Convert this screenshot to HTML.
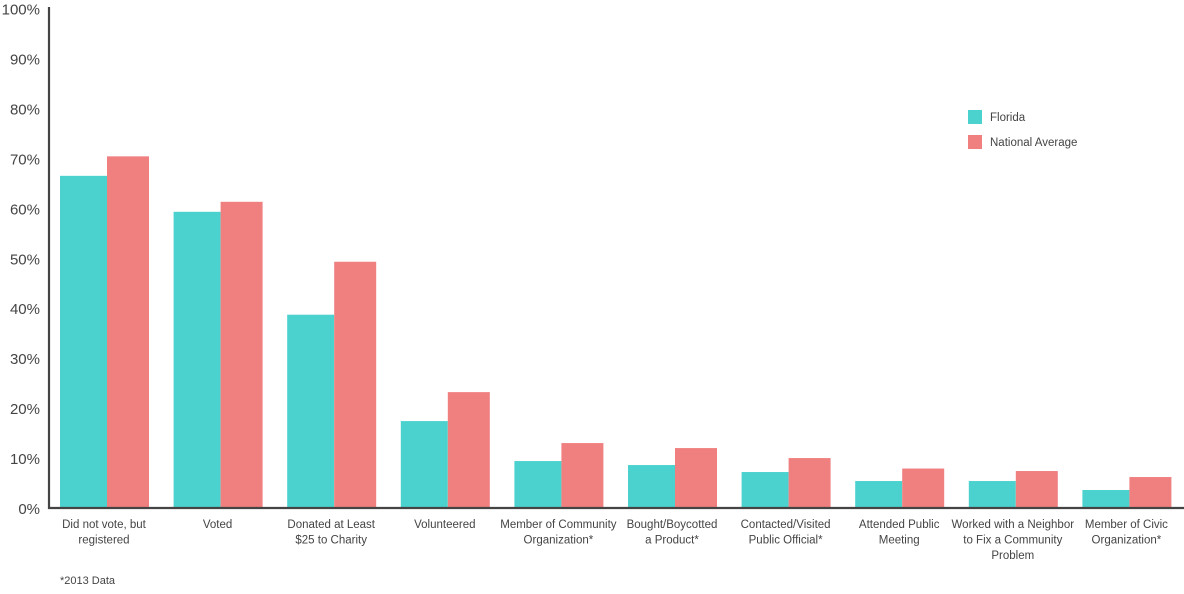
<!DOCTYPE html>
<html><head><meta charset="utf-8"><style>
body{margin:0;background:#fff;font-family:"Liberation Sans",sans-serif}
svg text{font-family:"Liberation Sans",sans-serif;fill:#444}
</style></head><body>
<svg id="chart" width="1184" height="589"></svg>
<script>
const categories=[["Did not vote, but","registered"],["Voted"],["Donated at Least","$25 to Charity"],["Volunteered"],["Member of Community","Organization*"],["Bought/Boycotted","a Product*"],["Contacted/Visited","Public Official*"],["Attended Public","Meeting"],["Worked with a Neighbor","to Fix a Community","Problem"],["Member of Civic","Organization*"]];
const florida=[66.5,59.3,38.7,17.4,9.4,8.6,7.2,5.4,5.4,3.6];
const national=[70.4,61.3,49.3,23.2,13,12,10,7.9,7.4,6.2];
const ticks=[0,10,20,30,40,50,60,70,80,90,100];
const NS="http://www.w3.org/2000/svg";
const svg=document.getElementById('chart');
const y0=508,y1=8.5,x0=49;
const y=v=>y0-(v/100)*(y0-y1);
const gx=i=>60+i*113.6;
function mk(t,a,p){const e=document.createElementNS(NS,t);for(const k in a)e.setAttribute(k,a[k]);(p||svg).appendChild(e);return e;}
ticks.forEach(t=>{const e=mk('text',{x:40,y:y(t)+6,'text-anchor':'end','font-size':15});e.textContent=t+'%';

});
categories.forEach((c,i)=>{
 const f=mk('rect',{x:gx(i),y:y(florida[i]),width:47,height:y0-y(florida[i]),fill:'#4BD2CE'});
 
 
 const n=mk('rect',{x:gx(i)+47,y:y(national[i]),width:42,height:y0-y(national[i]),fill:'#F08080'});
 
 
 c.forEach((line,j)=>{const t=mk('text',{x:gx(i)+44,y:528+j*15.5,'text-anchor':'middle','font-size':11.5});t.textContent=line;
 
 });
});
const ax=mk('path',{d:`M${x0} 7V${y0}H1184`,stroke:'#444','stroke-width':2.2,fill:'none'});


[['Florida','#4BD2CE',110],['National Average','#F08080',135]].forEach(([l,c,yy])=>{
 const g=mk('g',{});
 
 
 mk('rect',{x:968,y:yy,width:14,height:14,fill:c},g);
 const t=mk('text',{x:990,y:yy+11,'font-size':11.5},g);t.textContent=l;
});
const fn=mk('text',{x:60,y:584,'font-size':11});fn.textContent='*2013 Data';


</script>
</body></html>
